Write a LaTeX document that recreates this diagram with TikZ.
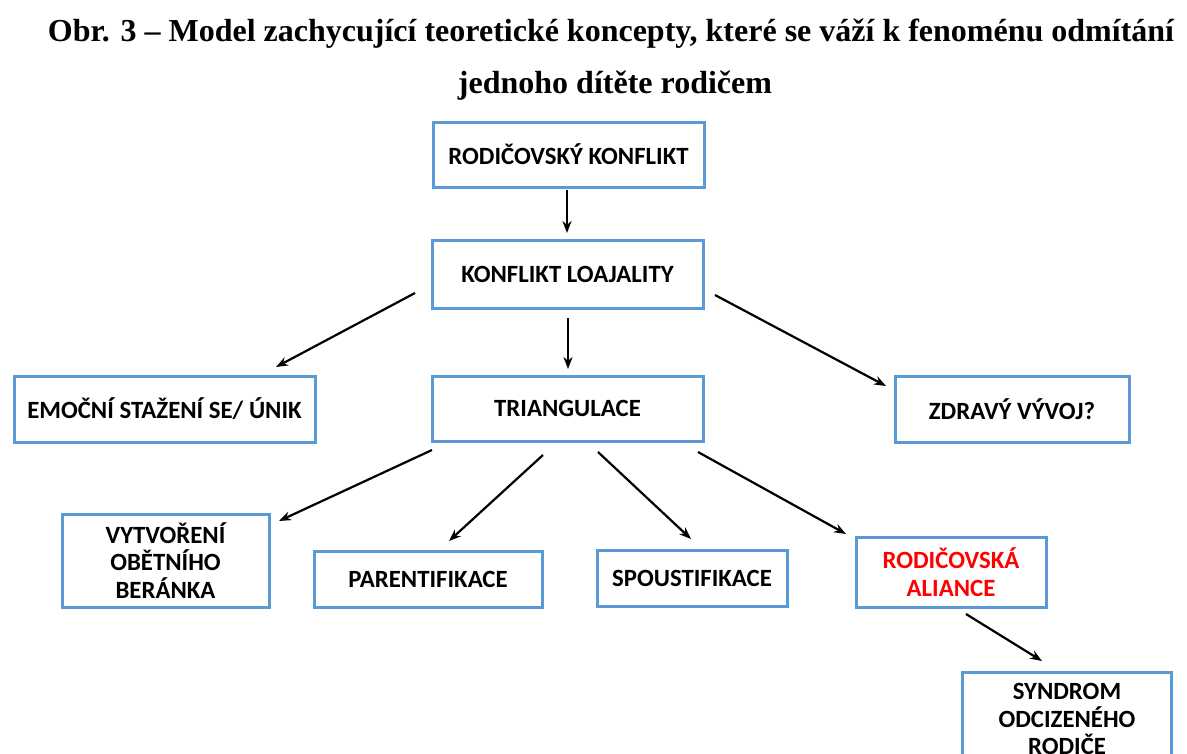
\documentclass[tikz,border=0pt]{standalone}
\usepackage{fontspec}
\setmainfont{Liberation Serif}
\newfontfamily\boxfont{Carlito}
\usetikzlibrary{arrows.meta}
\definecolor{boxblue}{HTML}{5B9BD5}
\definecolor{alred}{HTML}{FF0000}
\begin{document}
\begin{tikzpicture}[x=1pt,y=-1pt,
  box/.style={draw=boxblue,line width=3pt,inner sep=0pt,align=center,
    font=\boxfont\bfseries\fontsize{24.8}{27.5}\selectfont},
  conn/.style={line width=2.2pt,-{Stealth[length=12pt,width=9pt]}},
  ttl/.style={anchor=base,font=\bfseries\fontsize{32}{36}\selectfont}]
\useasboundingbox (0,0) rectangle (1187,753);
\node[ttl] (t1) at (611,41) {Obr. 3 – Model zachycující teoretické koncepty, které se váží k fenoménu odmítání};
\node[ttl] (t2) at (615,93) {jednoho dítěte rodičem};
\node[box,minimum width=271pt,minimum height=65pt] (rk) at (568.5,154.5) {RODIČOVSKÝ KONFLIKT};
\node[box,minimum width=271pt,minimum height=68pt] (kl) at (567.5,274) {KONFLIKT LOAJALITY};
\node[box,minimum width=301pt,minimum height=66pt] (em) at (164.5,409) {EMOČNÍ STAŽENÍ SE/ ÚNIK};
\node[box,minimum width=271pt,minimum height=65pt] (tr) at (567.5,408.5) {TRIANGULACE};
\node[box,minimum width=234pt,minimum height=66pt] (zv) at (1012,409) {ZDRAVÝ VÝVOJ?};
\node[box,minimum width=207pt,minimum height=93pt] (vy) at (165.5,560.5) {VYTVOŘENÍ\\OBĚTNÍHO\\BERÁNKA};
\node[box,minimum width=228pt,minimum height=56pt] (pa) at (428,579) {PARENTIFIKACE};
\node[box,minimum width=190pt,minimum height=56pt] (sp) at (692,578) {SPOUSTIFIKACE};
\node[box,minimum width=190pt,minimum height=70pt,text=alred] (al) at (951,572) {RODIČOVSKÁ\\ALIANCE};
\node[box,minimum width=209pt,minimum height=94pt] (sy) at (1067,719) {SYNDROM\\ODCIZENÉHO\\RODIČE};
% arrow end points
\coordinate (a1s) at (567,190); \coordinate (a1e) at (567,233);
\coordinate (a2s) at (415,293); \coordinate (a2e) at (276,367);
\coordinate (a3s) at (568,318); \coordinate (a3e) at (568,369);
\coordinate (a4s) at (715,295); \coordinate (a4e) at (886,386);
\coordinate (a5s) at (432,450); \coordinate (a5e) at (279,521);
\coordinate (a6s) at (543,455); \coordinate (a6e) at (449,541);
\coordinate (a7s) at (598,452); \coordinate (a7e) at (691,539);
\coordinate (a8s) at (698,452); \coordinate (a8e) at (846,534);
\coordinate (a9s) at (966,614); \coordinate (a9e) at (1042,661);
\draw[conn] (a1s) -- (a1e);
\draw[conn] (a2s) -- (a2e);
\draw[conn] (a3s) -- (a3e);
\draw[conn] (a4s) -- (a4e);
\draw[conn] (a5s) -- (a5e);
\draw[conn] (a6s) -- (a6e);
\draw[conn] (a7s) -- (a7e);
\draw[conn] (a8s) -- (a8e);
\draw[conn] (a9s) -- (a9e);
\end{tikzpicture}
\end{document}
